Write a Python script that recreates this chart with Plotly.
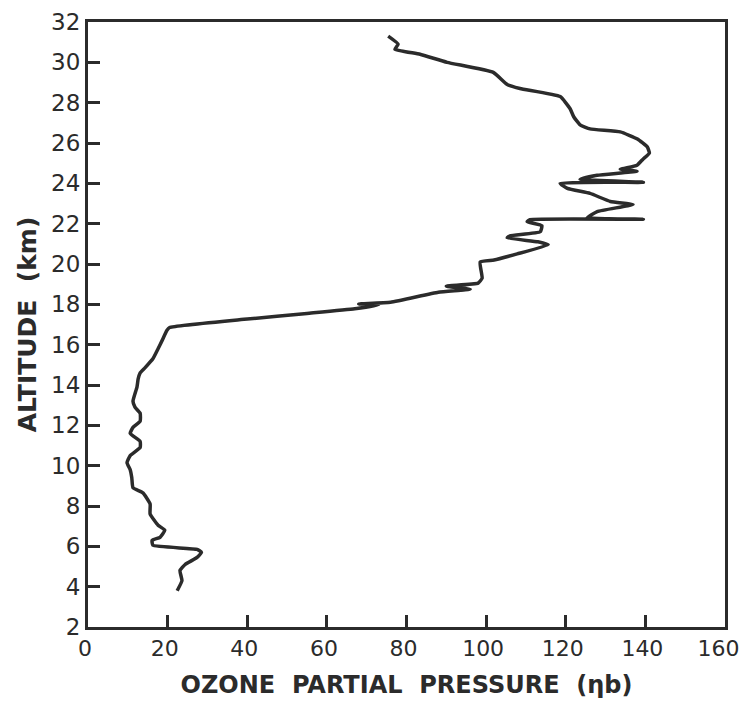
import plotly.graph_objects as go

# Ozone sounding profile, from the bottom of the trace upward
pressure = [22.4, 23.6, 23.1, 24.4, 27.4, 28.5, 27.4, 16.3, 16.1, 18.1, 19.3, 17.6,
            15.6, 15.6, 13.8, 11.3, 11.0, 10.6, 9.8, 10.6, 13.1, 13.1, 10.6, 11.3,
            13.1, 13.1, 11.8, 11.3, 12.3, 12.6, 13.1, 14.3, 16.3, 17.6, 18.6, 19.8,
            20.5, 40.0, 55.0, 67.0, 73.0, 68.0, 76.0, 88.0, 96.0, 90.0, 98.0, 99.0,
            98.5, 102.0, 107.8, 115.6, 113.0, 105.3, 106.0, 113.6, 114.0, 110.3, 111.0,
            139.5, 125.4, 127.9, 136.9, 131.2, 126.1, 120.4, 118.6, 139.5, 123.6, 127.9,
            137.9, 133.7, 137.9, 139.4, 141.0, 140.5, 138.0, 133.7, 126.1, 123.6, 122.0,
            121.1, 118.6, 108.5, 105.3, 101.8, 90.2, 83.4, 77.1, 77.9, 75.4]
altitude = [3.8, 4.3, 4.8, 5.1, 5.45, 5.7, 5.85, 6.05, 6.3, 6.45, 6.8, 7.05,
            7.6, 8.1, 8.65, 8.9, 9.4, 9.8, 10.15, 10.5, 10.9, 11.2, 11.6, 11.9,
            12.2, 12.6, 12.9, 13.2, 13.9, 14.3, 14.6, 14.85, 15.3, 15.8, 16.2, 16.7,
            16.85, 17.27, 17.55, 17.78, 17.98, 18.02, 18.1, 18.6, 18.75, 18.9, 19.05, 19.3,
            20.1, 20.2, 20.5, 20.95, 21.1, 21.3, 21.4, 21.6, 21.9, 22.1, 22.2,
            22.22, 22.3, 22.6, 22.95, 23.1, 23.5, 23.75, 24.0, 24.05, 24.2, 24.4,
            24.6, 24.7, 24.9, 25.2, 25.5, 25.8, 26.2, 26.55, 26.7, 26.9, 27.3,
            27.7, 28.3, 28.7, 28.9, 29.5, 30.0, 30.4, 30.65, 30.9, 31.3]

x_ticks = [0, 20, 40, 60, 80, 100, 120, 140, 160]
x_tick_labels = ['0', '20', '40', '60', '80', '100', '120', '140', '160']
y_ticks = [2, 4, 6, 8, 10, 12, 14, 16, 18, 20, 22, 24, 26, 28, 30, 32]

ink = '#2b2b2b'
font_family = 'DejaVu Sans, Arial, sans-serif'

# pad the last label a little so it is not clipped at the right edge of the window
x_text = x_tick_labels[:-1] + [x_tick_labels[-1] + '\u00a0']

fig = go.Figure(go.Scatter(
    x=pressure, y=altitude,
    mode='lines',
    line=dict(color=ink, width=3.5, shape='spline', smoothing=0.4),
    showlegend=False,
))

axis_common = dict(
    showgrid=False, zeroline=False, automargin=False,
    showline=True, linecolor=ink, linewidth=3, mirror=True,
    ticks='inside', ticklen=12, tickwidth=3, tickcolor=ink,
    tickfont=dict(family=font_family, size=23, color=ink),
    ticklabeloverflow='allow',
)

fig.update_xaxes(
    range=[0, 160], tickvals=x_ticks, ticktext=x_text, **axis_common,
    ticklabelshift=-3,
    title=dict(text='<b>OZONE  PARTIAL  PRESSURE  (ηb)</b>',
               font=dict(family=font_family, size=24, color=ink), standoff=22),
)
fig.update_xaxes(tickfont_size=22)
fig.update_yaxes(
    range=[2, 32], tickvals=y_ticks, **axis_common,
    title=dict(text='<b>ALTITUDE  (km)</b>',
               font=dict(family=font_family, size=25, color=ink), standoff=8),
)

# the page body adds an 8px margin, so the figure is sized to fit inside the window
fig.update_layout(
    width=742, height=691,
    margin=dict(l=80, r=25, t=14, b=72),
    paper_bgcolor='white', plot_bgcolor='white',
)

fig.write_html('out.html')
